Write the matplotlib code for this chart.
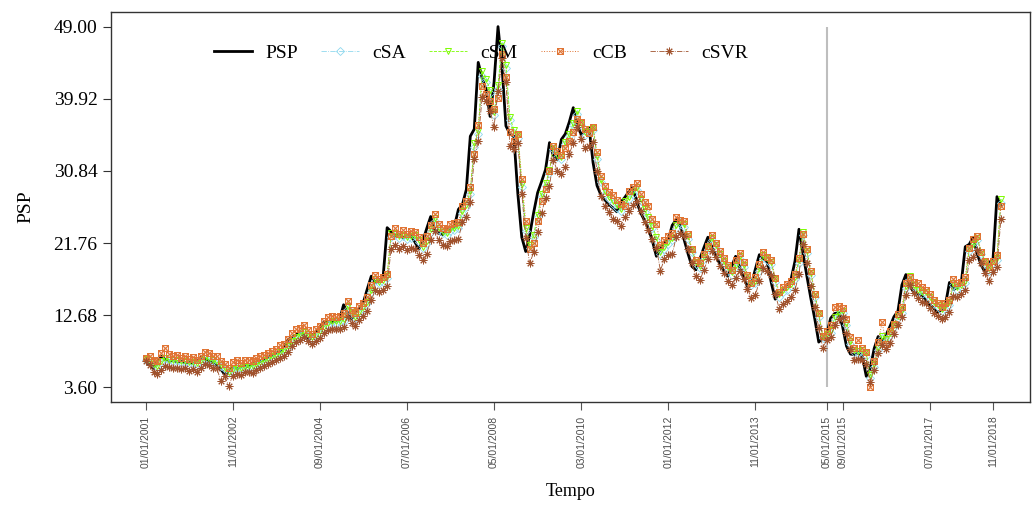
import matplotlib
matplotlib.use("Agg")
import matplotlib.pyplot as plt
from matplotlib.path import Path
import numpy as np
import pandas as pd

plt.rcParams['font.family'] = ['Liberation Serif', 'DejaVu Serif']

# monthly observations, 01/2001 .. 01/2019
dates = pd.date_range('2001-01-01', periods=217, freq='MS')

psp = [7.0, 6.4, 6.0, 6.9, 7.5, 7.1, 6.9, 7.0, 6.8, 6.9,
       6.7, 6.8, 6.6, 6.9, 7.4, 7.2, 6.9, 6.8, 6.3, 5.9,
       5.2, 5.7, 6.1, 6.0, 6.1, 6.3, 6.2, 6.5, 6.8, 6.9,
       7.1, 7.4, 7.6, 7.9, 8.1, 8.8, 9.6, 9.9, 10.2, 10.6,
       10.1, 9.6, 10.1, 10.6, 11.2, 11.8, 11.9, 11.8, 11.9, 12.1,
       14.0, 13.0, 12.2, 13.0, 13.6, 14.3, 16.0, 17.6, 16.8, 17.0,
       17.6, 23.7, 23.2, 22.6, 22.9, 22.4, 22.6, 22.8, 21.9, 21.0,
       22.0, 23.6, 25.1, 23.5, 23.0, 22.8, 23.5, 23.5, 23.9, 26.0,
       26.6, 28.5, 35.2, 36.1, 44.5, 42.5, 41.1, 37.7, 42.0, 49.0,
       44.0, 36.5, 35.5, 35.2, 28.0, 22.5, 20.7, 22.8, 25.6, 28.1,
       29.5, 31.0, 34.4, 32.7, 32.3, 34.8, 35.5, 37.0, 38.8, 36.7,
       35.4, 35.9, 36.3, 31.9, 29.0, 27.8, 27.2, 26.6, 26.2, 25.7,
       26.9, 27.5, 28.2, 28.8, 27.0, 25.6, 24.6, 23.6, 22.0, 20.1,
       21.0, 21.8, 22.2, 24.0, 24.7, 23.9, 22.2, 20.4, 18.8, 18.4,
       19.8, 21.2, 22.5, 21.3, 20.1, 19.2, 18.3, 17.6, 18.8, 20.1,
       18.8, 17.4, 16.3, 16.6, 18.5, 20.3, 19.8, 19.3, 16.8, 14.7,
       15.5, 15.9, 16.3, 17.2, 19.5, 23.5, 20.5, 17.6, 14.8, 12.2,
       9.3, 9.8, 10.3, 12.3, 12.9, 13.0, 11.3, 8.8, 7.8, 7.7,
       8.0, 7.5, 5.0, 6.0, 8.5, 10.0, 9.3, 10.2, 11.3, 12.5,
       13.2, 16.5, 17.8, 16.3, 15.6, 15.3, 15.3, 14.6, 14.0, 13.6,
       13.0, 13.4, 14.0, 16.8, 15.9, 16.2, 16.8, 21.3, 21.6, 22.5,
       20.4, 19.0, 18.1, 19.3, 19.7, 27.6, 26.4]

csa = [7.1, 6.9, 6.5, 6.2, 6.8, 7.2, 7.0, 6.9, 6.9, 6.8,
       6.8, 6.7, 6.7, 6.6, 6.9, 7.2, 7.1, 6.9, 6.7, 6.3,
       5.9, 5.4, 5.7, 6.0, 6.0, 6.1, 6.2, 6.2, 6.4, 6.7,
       6.9, 7.0, 7.3, 7.5, 7.8, 8.1, 8.6, 9.3, 9.8, 10.1,
       10.4, 10.1, 9.7, 10.0, 10.5, 11.0, 11.5, 11.8, 11.7, 11.8,
       12.0, 13.5, 12.9, 12.3, 12.9, 13.5, 14.2, 15.6, 17.0, 16.7,
       16.9, 17.4, 22.5, 22.8, 22.4, 22.6, 22.3, 22.4, 22.6, 21.9,
       21.1, 21.8, 23.2, 24.6, 23.4, 23.0, 22.8, 23.3, 23.4, 23.7,
       25.5, 26.3, 28.0, 33.8, 35.5, 42.8, 42.0, 40.6, 37.9, 41.2,
       46.5, 43.8, 37.2, 35.6, 35.0, 28.8, 23.3, 21.2, 22.5, 25.0,
       27.6, 29.0, 30.6, 33.6, 32.6, 32.3, 34.2, 35.2, 36.6, 38.0,
       36.6, 35.4, 35.8, 36.0, 32.4, 29.4, 28.0, 27.3, 26.7, 26.2,
       25.8, 26.7, 27.3, 28.0, 28.5, 27.0, 25.7, 24.7, 23.6, 22.2,
       20.4, 21.0, 21.6, 22.1, 23.7, 24.4, 23.8, 22.3, 20.6, 19.1,
       18.6, 19.7, 21.0, 22.1, 21.2, 20.1, 19.2, 18.4, 17.8, 18.7,
       19.8, 18.7, 17.4, 16.5, 16.7, 18.3, 19.9, 19.6, 19.1, 16.9,
       15.0, 15.6, 15.9, 16.3, 17.2, 19.3, 22.8, 20.5, 17.7, 15.0,
       12.5, 9.8, 10.0, 10.5, 12.2, 12.8, 12.9, 11.4, 9.1, 8.0,
       7.9, 8.0, 7.6, 4.8, 6.2, 8.3, 9.8, 9.4, 10.2, 11.2,
       12.3, 13.0, 16.1, 17.3, 16.2, 15.6, 15.3, 15.3, 14.7, 14.1,
       13.7, 13.2, 13.5, 14.0, 16.5, 15.9, 16.2, 16.7, 20.8, 21.3,
       22.1, 20.4, 19.1, 18.3, 19.2, 19.6, 26.8]

csm = [7.2, 7.0, 6.6, 6.3, 6.9, 7.3, 7.1, 7.0, 7.0, 6.9,
       6.9, 6.8, 6.8, 6.7, 7.0, 7.3, 7.2, 7.0, 6.8, 6.4,
       6.0, 5.6, 5.9, 6.1, 6.1, 6.2, 6.3, 6.3, 6.5, 6.8,
       7.0, 7.2, 7.5, 7.7, 8.0, 8.3, 8.8, 9.5, 10.0, 10.3,
       10.6, 10.3, 9.9, 10.2, 10.7, 11.2, 11.7, 12.0, 11.9, 12.0,
       12.2, 13.8, 13.1, 12.5, 13.1, 13.7, 14.4, 15.9, 17.3, 16.9,
       17.1, 17.6, 23.0, 23.0, 22.6, 22.8, 22.5, 22.6, 22.8, 22.1,
       21.3, 22.0, 23.5, 24.9, 23.6, 23.2, 23.0, 23.5, 23.6, 23.9,
       25.8, 26.6, 28.3, 34.3, 35.9, 43.4, 42.4, 41.0, 38.2, 41.7,
       47.0, 44.2, 37.6, 36.0, 35.3, 29.2, 23.6, 21.5, 22.8, 25.3,
       27.9, 29.3, 30.9, 34.0, 32.9, 32.6, 34.5, 35.5, 36.9, 38.4,
       36.9, 35.7, 36.1, 36.3, 32.7, 29.7, 28.3, 27.6, 27.0, 26.5,
       26.1, 27.0, 27.6, 28.3, 28.8, 27.3, 26.0, 25.0, 23.9, 22.5,
       20.7, 21.3, 21.9, 22.4, 24.0, 24.7, 24.1, 22.6, 20.9, 19.4,
       18.9, 20.0, 21.3, 22.4, 21.5, 20.4, 19.5, 18.7, 18.1, 19.0,
       20.1, 19.0, 17.7, 16.8, 17.0, 18.6, 20.2, 19.9, 19.4, 17.2,
       15.3, 15.9, 16.2, 16.6, 17.5, 19.6, 23.2, 20.8, 18.0, 15.3,
       12.8, 10.1, 10.3, 10.8, 12.5, 13.1, 13.2, 11.7, 9.4, 8.3,
       8.2, 8.3, 7.9, 5.1, 6.5, 8.6, 10.1, 9.7, 10.5, 11.5,
       12.6, 13.3, 16.4, 17.6, 16.5, 15.9, 15.6, 15.6, 15.0, 14.4,
       14.0, 13.5, 13.8, 14.3, 16.8, 16.2, 16.5, 17.0, 21.1, 21.6,
       22.4, 20.7, 19.4, 18.6, 19.5, 19.9, 27.3]

ccb = [7.3, 7.6, 7.0, 6.9, 7.9, 8.6, 7.8, 7.6, 7.7, 7.3,
       7.5, 7.2, 7.4, 7.1, 7.6, 8.1, 7.9, 7.6, 7.5, 6.9,
       6.5, 6.0, 6.8, 7.0, 6.7, 7.0, 7.1, 6.9, 7.3, 7.6,
       7.7, 7.9, 8.2, 8.4, 8.9, 9.1, 9.7, 10.4, 10.9, 11.1,
       11.5, 10.8, 10.3, 10.9, 11.3, 11.9, 12.5, 12.6, 12.4, 12.6,
       12.9, 14.5, 13.4, 12.9, 13.8, 14.2, 15.0, 16.5, 17.8, 17.3,
       17.5, 17.9, 22.6, 23.6, 22.9, 23.4, 22.9, 23.3, 23.1, 22.5,
       21.8, 22.6, 24.0, 25.4, 24.2, 23.7, 23.5, 24.1, 24.3, 24.4,
       26.4, 27.0, 28.8, 33.0, 36.6, 41.5, 40.5, 39.6, 38.6, 40.0,
       45.5, 42.7, 35.8, 34.6, 35.5, 29.8, 24.5, 21.0, 21.8, 24.5,
       27.0, 28.6, 30.8, 34.0, 33.4, 32.8, 33.7, 34.6, 35.8, 37.4,
       37.0, 36.1, 35.6, 36.4, 33.2, 30.2, 28.9, 28.2, 27.8, 27.2,
       26.7, 26.4, 28.3, 28.8, 29.3, 27.9, 26.9, 26.4, 24.8, 24.2,
       21.5, 22.2, 22.6, 23.0, 25.0, 24.7, 24.5, 22.9, 21.0, 19.6,
       19.2, 20.4, 21.4, 22.8, 21.8, 20.8, 19.9, 19.0, 18.4, 19.6,
       20.5, 19.4, 17.8, 16.7, 17.5, 19.1, 20.6, 20.0, 19.6, 17.4,
       15.6, 16.2, 16.6, 17.0, 17.9, 19.9, 22.9, 21.0, 18.2, 15.4,
       12.9, 10.1, 10.7, 11.5, 13.7, 13.8, 13.6, 12.2, 9.9, 8.6,
       9.6, 8.5, 8.0, 3.6, 6.9, 9.3, 11.8, 9.1, 10.7, 11.6,
       12.8, 13.7, 16.7, 17.5, 16.9, 16.7, 16.2, 15.9, 15.3, 14.6,
       14.2, 13.7, 14.2, 14.6, 17.2, 16.7, 16.9, 17.5, 21.2, 22.3,
       22.7, 20.7, 19.5, 18.8, 19.5, 20.2, 26.4]

csvr = [6.9, 6.4, 5.6, 5.3, 5.8, 6.3, 6.2, 6.0, 6.1, 5.9,
        6.0, 5.7, 5.9, 5.6, 6.1, 6.5, 6.4, 6.1, 6.0, 4.4,
        5.0, 3.8, 5.0, 5.3, 5.1, 5.5, 5.6, 5.4, 5.8, 6.1,
        6.3, 6.5, 6.8, 7.0, 7.3, 7.6, 8.1, 8.8, 9.3, 9.6,
        9.9, 9.5, 9.0, 9.4, 9.8, 10.4, 10.8, 11.0, 10.9, 11.0,
        11.2, 12.5, 11.7, 11.3, 12.1, 12.6, 13.2, 14.6, 15.8, 15.6,
        15.9, 16.4, 21.0, 21.5, 21.0, 21.4, 20.9, 21.2, 21.0, 20.3,
        19.6, 20.4, 22.1, 23.3, 22.2, 21.5, 21.4, 22.0, 22.1, 22.3,
        24.4, 25.0, 26.9, 32.3, 34.6, 40.2, 39.7, 38.4, 36.4, 40.9,
        45.0, 42.0, 34.0, 33.6, 34.4, 28.0, 22.4, 19.2, 20.6, 23.2,
        25.6, 27.4, 29.0, 32.2, 30.8, 30.5, 31.3, 33.0, 34.3, 36.4,
        34.9, 33.7, 34.0, 34.5, 30.8, 27.7, 26.4, 25.7, 24.8, 24.5,
        23.9, 25.0, 25.8, 26.6, 27.0, 25.8, 24.4, 23.4, 22.3, 21.2,
        18.3, 19.7, 20.2, 20.4, 22.5, 23.0, 22.6, 21.0, 19.2, 17.6,
        17.1, 18.4, 19.7, 20.8, 20.0, 18.9, 18.0, 17.0, 16.5, 17.4,
        18.3, 17.3, 16.0, 14.8, 15.2, 17.0, 18.6, 18.2, 17.7, 15.4,
        13.5, 14.1, 14.5, 15.0, 15.8, 17.9, 21.7, 19.3, 16.4, 13.7,
        11.1, 8.6, 9.6, 9.9, 11.4, 12.2, 12.4, 10.5, 8.4, 7.0,
        7.2, 7.1, 6.6, 4.3, 5.8, 7.9, 8.9, 8.4, 9.2, 10.3,
        11.4, 12.4, 15.2, 16.5, 15.5, 14.8, 14.4, 14.2, 13.6, 13.0,
        12.6, 12.2, 12.5, 13.1, 15.1, 15.0, 15.3, 15.9, 19.6, 20.0,
        20.9, 19.2, 18.0, 17.0, 18.1, 18.7, 24.8]

tick_idx = [0, 22, 44, 66, 88, 110, 132, 154, 172, 176, 198, 214]
split_idx = 172

# square with a cross inside (R pch 7)
boxx = Path([(-1, -1), (1, -1), (1, 1), (-1, 1), (-1, -1), (-1, -1), (1, 1), (-1, 1), (1, -1)],
            [Path.MOVETO, Path.LINETO, Path.LINETO, Path.LINETO, Path.CLOSEPOLY,
             Path.MOVETO, Path.LINETO, Path.MOVETO, Path.LINETO])

x = np.arange(len(psp))
fig = plt.figure(figsize=(10.35, 5.08), dpi=100)
ax = fig.add_axes([0.107, 0.209, 0.888, 0.767])

ax.plot(x, psp, '-', color='black', lw=2.0, label='PSP', zorder=2)
ax.plot(x, csa, '-.', color='#8fd8ee', lw=0.6, marker='D', ms=4, mfc='none', mew=0.6, label='cSA', zorder=3)
ax.plot(x, csm, '--', color='#7cfc00', lw=0.6, marker='v', ms=5, mfc='none', mew=0.7, label='cSM', zorder=3)
ax.plot(x, ccb, ':', color='#e07434', lw=0.7, marker=boxx, ms=4.2, mfc='none', mew=0.8, label='cCB', zorder=3)
ax.plot(x, csvr, '-.', color='#a0522d', lw=0.6, marker=(8, 2, 0), ms=5.5, mew=0.7, label='cSVR', zorder=3)

allv = np.concatenate([psp, csa, csm, ccb, csvr])
lo, hi = allv.min(), allv.max()
ax.vlines(split_idx, lo, hi, color='#bebebe', lw=1.5, zorder=1)

pad = 0.04 * (hi - lo)
ax.set_ylim(lo - pad, hi + pad)
ax.set_xlim(-8.8, 223.3)
yt = np.linspace(lo, hi, 6)
ax.set_yticks(yt)
ax.set_yticklabels(['%.2f' % v for v in yt], fontsize=14)
ax.set_xticks(tick_idx)
ax.set_xticklabels([dates[i].strftime('%m/%d/%Y') for i in tick_idx], rotation=90,
                   fontsize=7.5, family='Liberation Sans', color='#4d4d4d')
ax.tick_params(axis='x', length=6, color='#555555', pad=4)
ax.tick_params(axis='y', length=6, color='#333333')
for s in ax.spines.values():
    s.set_color('#333333')
    s.set_linewidth(1.0)

ax.set_xlabel('Tempo', fontsize=13, labelpad=11)
ax.set_ylabel('PSP', fontsize=14, labelpad=14)

ax.legend(loc='center left', bbox_to_anchor=(0.093, 0.895), ncol=5, frameon=False, fontsize=14,
          handlelength=1.95, handletextpad=0.7, columnspacing=1.18)

fig.savefig('out.png', dpi=100)
